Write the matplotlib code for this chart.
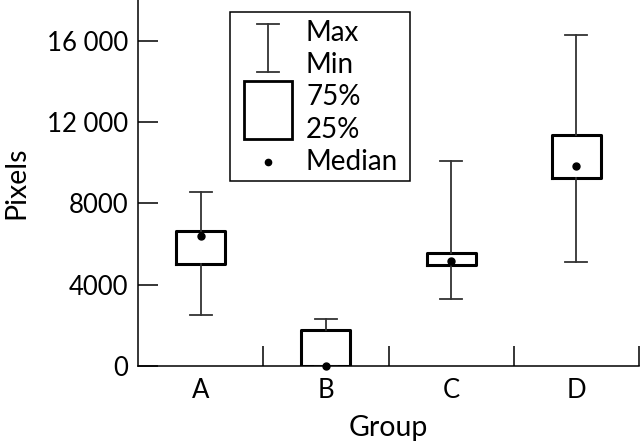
import matplotlib
matplotlib.use("Agg")
import matplotlib.pyplot as plt
from matplotlib.lines import Line2D
from matplotlib.patches import Rectangle

plt.rcParams['font.family'] = ['Lato', 'DejaVu Sans']

# ---- data ----
groups = ["A", "B", "C", "D"]
mins   = [2500, 0, 3300, 5100]
q25    = [5000, 0, 4970, 9230]
medians = [6400, 0, 5150, 9850]
q75    = [6650, 1770, 5560, 11380]
maxs   = [8550, 2300, 10100, 16300]

yticks = [0, 4000, 8000, 12000, 16000]
ytick_labels = ["0", "4000", "8000", "12 000", "16 000"]

W, H = 640, 443
fig = plt.figure(figsize=(W / 100, H / 100), dpi=100)
ax = fig.add_axes([138 / W, 1 - 366 / H, (639 - 138) / W, 366 / H])

pos = [i + 0.5 for i in range(len(groups))]
stats = []
for g, lo, a, m, b, hi in zip(groups, mins, q25, medians, q75, maxs):
    stats.append(dict(label=g, whislo=lo, q1=a, med=m, q3=b, whishi=hi))

ax.bxp(stats, positions=pos, widths=0.39, capwidths=0.175,
       manage_ticks=False, showfliers=False,
       boxprops=dict(color='black', linewidth=2.2),
       whiskerprops=dict(color='#333333', linewidth=1.3),
       capprops=dict(color='#333333', linewidth=1.3),
       medianprops=dict(linewidth=0))
ax.plot(pos, medians, 'o', color='black', markersize=5, zorder=5, clip_on=False)

ax.set_xlim(0, 4)
ax.set_ylim(0, 18000)
for s in ['top', 'right']:
    ax.spines[s].set_visible(False)
for s in ['left', 'bottom']:
    ax.spines[s].set_linewidth(1.1)

ax.set_yticks(yticks)
ax.set_yticklabels(ytick_labels)
ax.set_xticks([1, 2, 3, 4])
ax.set_xticklabels([])
ax.set_xticks(pos, minor=True)
ax.set_xticklabels(groups, minor=True)
ax.tick_params(axis='both', which='major', direction='in', length=14.5,
               width=1.1, labelsize=18.5, pad=7)
ax.tick_params(axis='x', which='minor', length=0, labelsize=18.5, pad=9)

ax.set_xlabel("Group", fontsize=20.5, labelpad=8)
ax.set_ylabel("Pixels", fontsize=20.5, labelpad=13)

# ---- hand drawn key ----
def px(x, y):
    return x / W, 1 - y / H

tf = fig.transFigure
x0, y0 = px(230, 181)
x1, y1 = px(410, 12)
fig.add_artist(Rectangle((x0, y0), x1 - x0, y1 - y0, transform=tf,
                         fill=False, edgecolor='black', linewidth=1.1))
# whisker symbol
fig.add_artist(Line2D(*zip(px(268, 24), px(268, 72)), transform=tf, color='#333333', lw=1.3))
fig.add_artist(Line2D(*zip(px(257, 24), px(279, 24)), transform=tf, color='#333333', lw=1.3))
fig.add_artist(Line2D(*zip(px(257, 72), px(279, 72)), transform=tf, color='#333333', lw=1.3))
# box symbol
bx0, by0 = px(244, 139)
bx1, by1 = px(292, 81)
fig.add_artist(Rectangle((bx0, by0), bx1 - bx0, by1 - by0, transform=tf,
                         fill=False, edgecolor='black', linewidth=2.0))
# median dot
dx, dy = px(268, 162)
fig.add_artist(Line2D([dx], [dy], transform=tf, marker='o', color='black', markersize=4.5))

key_labels = ["Max", "Min", "75%", "25%", "Median"]
key_y = [33, 65, 97, 130, 162]
for lab, yy in zip(key_labels, key_y):
    tx, ty = px(306, yy)
    fig.text(tx, ty, lab, fontsize=20, ha='left', va='center')

fig.savefig("out.png", dpi=100)
